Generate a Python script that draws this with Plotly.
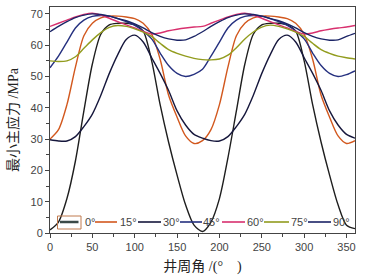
import plotly.graph_objects as go

# ---------------- data ----------------
angle = list(range(0, 361, 10))  # 井周角 /(°)

labels = ["0°", "15°", "30°", "45°", "60°", "75°", "90°"]

s0 = [1, 3.5, 11, 23, 39, 54, 63.5, 66.5, 67, 67, 66.5, 64.5, 55, 41, 29, 18.5, 9, 2.5, 0.5,
      3.5, 11, 24, 39, 54, 63.5, 66.5, 67, 67, 66.5, 64.5, 55, 41, 29, 18.5, 9, 2.5, 1.4]
s15 = [30, 33, 41, 53, 63, 67, 68.7, 69.3, 69.3, 69, 68.5, 67, 63.5, 55.5, 44, 37, 31, 28.6, 29.5,
       33, 41, 53, 63, 67, 68.7, 69.3, 69.3, 69, 68.5, 67, 63.5, 55.5, 44, 37, 31, 28.6, 29.5]
s30 = [29.8, 29.4, 29.4, 30.8, 34, 38, 44, 51, 57, 61.8, 63.2, 61, 56, 51, 45.5, 39, 34.5, 31.5, 30.3,
       29.5, 29.4, 30.8, 34, 38, 44, 51, 57, 61.8, 63.2, 61, 56, 51, 45.5, 39, 34.5, 31.5, 30.3]
s45 = [52.8, 56.5, 61, 65.5, 68, 69.2, 69.5, 69.3, 68.5, 67.5, 66.3, 64.5, 62, 57.5, 53.5, 51, 50, 50.7, 52.3,
       56.5, 61, 65.5, 68, 69.2, 69.5, 69.3, 68.5, 67.5, 66.3, 64.5, 62, 57.5, 53.5, 51, 50, 50.6, 51.8]
s60 = [66, 67, 68, 69, 69.8, 70.2, 69.6, 68.6, 67.5, 66.5, 65.5, 64.4, 63.6, 63.9, 64.6, 65.1, 65.5, 65.8, 66,
       67, 68, 69, 69.8, 70.2, 69.6, 68.6, 67.5, 66.5, 65.5, 64.4, 63.6, 63.9, 64.6, 65.1, 65.5, 65.8, 66.3]
s75 = [55, 54.8, 55, 56.3, 59, 61.7, 64, 65.7, 66.3, 66, 65.2, 64.2, 62.8, 60.6, 58.6, 57.4, 56.5, 55.8, 55.4,
       55.3, 55.6, 56.8, 59.2, 62, 64.2, 65.8, 66.4, 66, 65.2, 64.2, 62.8, 60.6, 58.6, 57.4, 56.5, 56, 55.6]
s90 = [64.3, 66, 67.5, 68.8, 69.6, 70, 69.8, 69.3, 68.5, 67.8, 66.8, 65.5, 64, 62.8, 62, 61.6, 61.7, 62.8, 64.3,
       66, 67.5, 68.8, 69.6, 70, 69.8, 69.3, 68.5, 67.8, 66.8, 65.5, 64, 62.8, 62, 61.6, 61.7, 62.8, 63.8]

series = [s0, s15, s30, s45, s60, s75, s90]

# ---------------- styles ----------------
colors = ["#1e1e1e", "#d2581e", "#16173c", "#25307f", "#d8306e", "#929c1e", "#1b2466"]

W, H = 366, 277
ML, MR, MT, MB = 50, 11, 7, 44
PW, PH = W - ML - MR, H - MT - MB


def px(xp):
    return (xp - ML) / PW


def py(yp):
    return (H - MB - yp) / PH


fig = go.Figure()
for lab, ys, col in zip(labels, series, colors):
    fig.add_trace(go.Scatter(x=angle, y=ys, mode="lines", name=lab,
                             line=dict(color=col, width=1.4, shape="spline", smoothing=0.8),
                             showlegend=False))

# ---------------- hand-drawn legend (one row, like the original) ----------------
shapes = []
annotations = []
leg_y = 222
shapes.append(dict(type="rect", xref="paper", yref="paper",
                   x0=px(57.5), x1=px(81), y0=py(229), y1=py(216),
                   line=dict(color="#c07a4e", width=1), fillcolor="rgba(0,0,0,0)"))
shapes.append(dict(type="line", xref="paper", yref="paper",
                   x0=px(60), x1=px(78.5), y0=py(leg_y), y1=py(leg_y),
                   line=dict(color="#3b4a48", width=2.5)))
line_pos = [None, (95, 117), (138, 161), (180, 202), (222, 245), (264, 289), (308, 331)]
text_pos = [83, 118, 161, 201, 245, 289, 331]
for i, lab in enumerate(labels):
    if line_pos[i] is not None:
        a, b = line_pos[i]
        shapes.append(dict(type="line", xref="paper", yref="paper",
                           x0=px(a), x1=px(b), y0=py(leg_y), y1=py(leg_y),
                           line=dict(color=colors[i], width=1.6)))
    annotations.append(dict(xref="paper", yref="paper", x=px(text_pos[i]), y=py(leg_y),
                            text=lab, showarrow=False, xanchor="left", yanchor="middle",
                            font=dict(family="Liberation Sans, Arial", size=11, color="#444")))

axis_common = dict(showgrid=False, zeroline=False, showline=True, linecolor="#444",
                   linewidth=1, mirror=True, ticks="outside", ticklen=4, tickwidth=1,
                   tickcolor="#444", automargin=False,
                   tickfont=dict(family="Liberation Sans, Arial", size=11, color="#444"))

fig.update_layout(
    width=W, height=H,
    margin=dict(l=ML, r=MR, t=MT, b=MB),
    paper_bgcolor="white", plot_bgcolor="white",
    shapes=shapes, annotations=annotations,
    xaxis=dict(range=[0, 360], tickvals=[0, 50, 100, 150, 200, 250, 300, 350],
               minor=dict(tickvals=[25, 75, 125, 175, 225, 275, 325], ticks="outside",
                          ticklen=3, tickcolor="#444"),
               title=dict(text="井周角 /(°　)", standoff=8,
                          font=dict(family="Liberation Serif, Noto Sans CJK SC", size=14, color="#222")),
               **axis_common),
    yaxis=dict(range=[0, 72.2], tickvals=[0, 10, 20, 30, 40, 50, 60, 70],
               minor=dict(tickvals=[5, 15, 25, 35, 45, 55, 65], ticks="outside",
                          ticklen=3, tickcolor="#444"),
               title=dict(text="最小主应力 /MPa", standoff=8,
                          font=dict(family="Liberation Serif, Noto Sans CJK SC", size=14, color="#222")),
               **axis_common),
)

fig.write_html("out.html", config={"displayModeBar": False},
               post_script="document.body.style.margin='0';")
